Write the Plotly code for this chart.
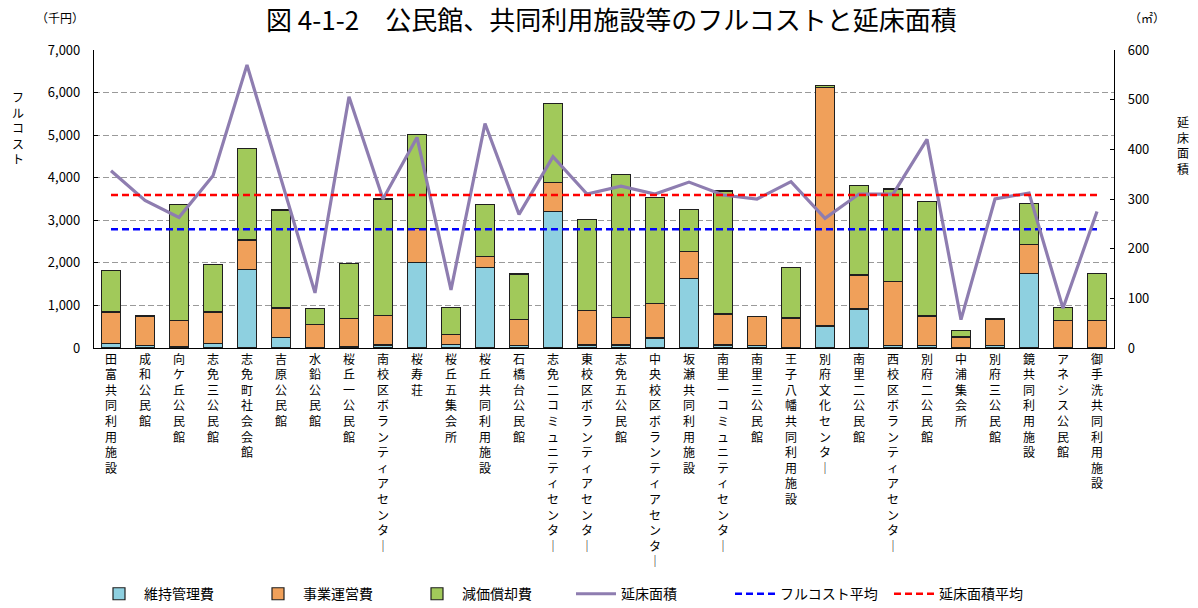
import plotly.graph_objects as go

# 施設名
facilities = [
    "田富共同利用施設", "成和公民館", "向ケ丘公民館", "志免三公民館", "志免町社会会館",
    "吉原公民館", "水鉛公民館", "桜丘一公民館", "南校区ボランティアセンター", "桜寿荘",
    "桜丘五集会所", "桜丘共同利用施設", "石橋台公民館", "志免二コミュニティセンター",
    "東校区ボランティアセンター", "志免五公民館", "中央校区ボランティアセンター",
    "坂瀬共同利用施設", "南里一コミュニティセンター", "南里三公民館", "王子八幡共同利用施設",
    "別府文化センター", "南里二公民館", "西校区ボランティアセンター", "別府二公民館",
    "中浦集会所", "別府三公民館", "鏡共同利用施設", "アネシス公民館", "御手洗共同利用施設",
]

# フルコスト内訳（千円）
maintenance = [110, 50, 40, 110, 1840, 240, 10, 30, 70, 2000,
               80, 1900, 60, 3215, 70, 70, 235, 1625, 70, 50,
               20, 515, 915, 55, 60, 5, 50, 1745, 5, 5]
operation = [735, 700, 600, 735, 695, 700, 540, 660, 690, 810,
             240, 250, 605, 680, 820, 650, 805, 650, 730, 685,
             685, 5610, 800, 1500, 690, 255, 630, 690, 635, 645]
depreciation = [977, 0, 2740, 1120, 2150, 2300, 375, 1300, 2740, 2200,
                640, 1220, 1075, 1850, 2135, 3350, 2500, 970, 2890, 0,
                1190, 40, 2095, 2180, 2700, 156, 0, 960, 320, 1100]

# 延床面積（㎡）
floor_area = [357, 297, 263, 347, 570, 340, 111, 506, 300, 424,
              117, 452, 269, 385, 310, 326, 310, 334, 308, 300,
              335, 261, 310, 310, 420, 57, 300, 312, 80, 275]

fullcost_avg = 2790
area_avg = 308

JP = "Noto Sans CJK JP"


def vertical(label):
    # 縦書き風に1文字ずつ改行、長音は縦棒に置き換え
    return "<br>".join("｜" if ch == "ー" else ch for ch in label)


fig = go.Figure()

bar_line = dict(color="#1f1f1f", width=1.2)
fig.add_trace(go.Bar(x=facilities, y=maintenance, name="維持管理費",
                     marker=dict(color="#8ED0E0", line=bar_line)))
fig.add_trace(go.Bar(x=facilities, y=operation, name="事業運営費",
                     marker=dict(color="#F0A05A", line=bar_line)))
fig.add_trace(go.Bar(x=facilities, y=depreciation, name="減価償却費",
                     marker=dict(color="#A1C95A", line=bar_line)))

fig.add_trace(go.Scatter(x=facilities, y=floor_area, name="延床面積", yaxis="y2",
                         mode="lines", line=dict(color="#8E7DB0", width=3.2)))

fig.add_trace(go.Scatter(x=facilities, y=[fullcost_avg] * len(facilities),
                         name="フルコスト平均", mode="lines",
                         line=dict(color="#0000FF", width=2.5, dash="7px,4px")))
fig.add_trace(go.Scatter(x=facilities, y=[area_avg] * len(facilities),
                         name="延床面積平均", mode="lines", yaxis="y2",
                         line=dict(color="#FF0000", width=2.5, dash="7px,4px")))

fig.update_layout(
    width=1198, height=608,
    margin=dict(l=94, r=84, t=50, b=260, autoexpand=False),
    paper_bgcolor="white", plot_bgcolor="white",
    barmode="stack", bargap=0.43,
    font=dict(family=JP, color="#000000", size=13),
    showlegend=True,
    legend=dict(orientation="h", x=0.0, xanchor="left", y=-0.826, yanchor="middle",
                font=dict(family=JP, size=14), entrywidth=104, entrywidthmode="pixels",
                traceorder="normal", itemwidth=40, bgcolor="rgba(0,0,0,0)"),
    xaxis=dict(
        tickmode="array", tickvals=facilities,
        ticktext=[vertical(f) for f in facilities],
        tickangle=0, tickfont=dict(family=JP, size=12), automargin=False,
        showline=True, linecolor="#000000", linewidth=1.2,
        ticks="", showgrid=False, range=[-0.5, len(facilities) - 0.5],
    ),
    yaxis=dict(
        range=[0, 7000], dtick=1000, tickformat=",d", automargin=False,
        showline=True, linecolor="#000000", linewidth=1.2,
        ticks="inside", ticklen=4, tickcolor="#000000",
        showgrid=True, gridcolor="#9a9a9a", gridwidth=1, griddash="6px,3px",
        zeroline=False, tickfont=dict(size=13), ticklabelstandoff=10,
    ),
    yaxis2=dict(
        range=[0, 600], dtick=100, overlaying="y", side="right", automargin=False,
        showline=True, linecolor="#000000", linewidth=1.2,
        ticks="inside", ticklen=4, tickcolor="#000000",
        showgrid=False, zeroline=False, tickfont=dict(size=13), ticklabelstandoff=10,
    ),
    annotations=[
        dict(text="図 4-1-2　公民館、共同利用施設等のフルコストと延床面積",
             x=611, y=19, showarrow=False, font=dict(family=JP, size=26)),
        dict(text="（千円）", x=60, y=18, showarrow=False, font=dict(size=12)),
        dict(text="（㎡）", x=1147, y=18, showarrow=False, font=dict(size=12)),
        dict(text=vertical("フルコスト"), x=18, y=128, showarrow=False, font=dict(size=12)),
        dict(text=vertical("延床面積"), x=1183, y=145, showarrow=False, font=dict(size=12)),
    ],
)

# 注記はピクセル座標で配置
for ann in fig.layout.annotations:
    ann.update(xref="paper", yref="paper",
               x=(ann.x - 94) / 1020, y=(348 - ann.y) / 298,
               xanchor="center", yanchor="middle")

fig.write_html("out.html")
